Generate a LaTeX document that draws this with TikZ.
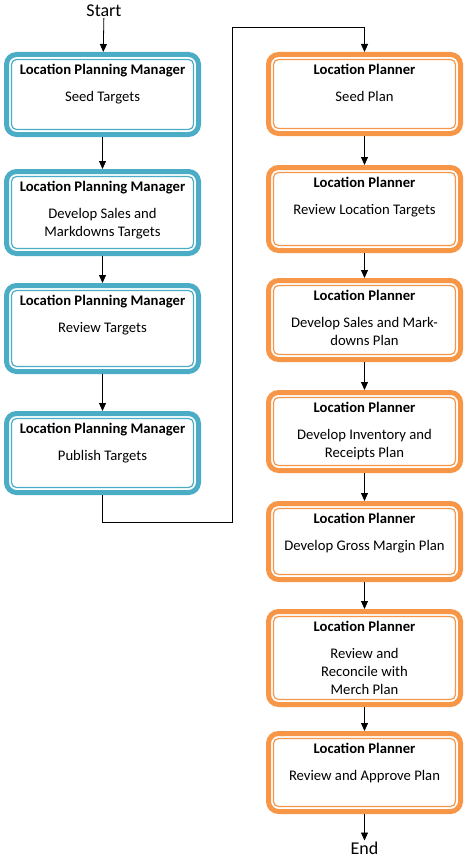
\documentclass[tikz,border=0pt]{standalone}
\usepackage{fontspec}
\setmainfont{Carlito}
\usepackage{tikz}
\usetikzlibrary{arrows.meta, positioning}
\definecolor{lpmblue}{HTML}{4BACC6}
\definecolor{lporange}{HTML}{F79646}
\tikzstyle{lpmbox} = [draw=lpmblue, line width=5pt, rounded corners=10pt, minimum width=192pt]
\tikzstyle{lpbox} = [draw=lporange, line width=5pt, rounded corners=10pt, minimum width=192pt]
\tikzstyle{inner} = [line width=1.2pt, rounded corners=5pt]
\tikzstyle{line} = [draw, line width=0.8pt, -{Triangle[length=8pt, width=7pt]}]
\tikzstyle{plain} = [draw, line width=0.8pt]
\tikzstyle{term} = [font=\fontsize{18}{20}\selectfont, inner sep=1pt]
\tikzset{every label/.style={anchor=north, align=center, yshift=-9pt,
    font=\fontsize{14.67}{18}\selectfont}}

\begin{document}
\begin{tikzpicture}[x=1pt, y=1pt]
			\useasboundingbox (0,0) rectangle (472,-864);
			\node [term] (start) at (104,-11) {Start};

			\node [lpmbox, minimum height=80pt, label={north:{\textbf{Location Planning Manager}\\[9pt]Seed Targets}}] (lpm1) at (102.5,-94.5) {};
			\node [lpmbox, minimum height=82pt, label={north:{\textbf{Location Planning Manager}\\[9pt]Develop Sales and\\Markdowns Targets}}] (lpm2) at (102.5,-212.5) {};
			\node [lpmbox, minimum height=86pt, label={north:{\textbf{Location Planning Manager}\\[9pt]Review Targets}}] (lpm3) at (102.5,-328.5) {};
			\node [lpmbox, minimum height=79pt, label={north:{\textbf{Location Planning Manager}\\[9pt]Publish Targets}}] (lpm4) at (102.5,-453) {};

			\node [lpbox, minimum height=79pt, label={north:{\textbf{Location Planner}\\[9pt]Seed Plan}}] (lp1) at (364.5,-94) {};
			\node [lpbox, minimum height=83pt, label={north:{\textbf{Location Planner}\\[9pt]Review Location Targets}}] (lp2) at (364.5,-209) {};
			\node [lpbox, minimum height=79pt, label={north:{\textbf{Location Planner}\\[9pt]Develop Sales and Mark-\\downs Plan}}] (lp3) at (364.5,-320) {};
			\node [lpbox, minimum height=78pt, label={north:{\textbf{Location Planner}\\[9pt]Develop Inventory and\\Receipts Plan}}] (lp4) at (364.5,-431.5) {};
			\node [lpbox, minimum height=76pt, label={north:{\textbf{Location Planner}\\[9pt]Develop Gross Margin Plan}}] (lp5) at (364.5,-541.5) {};
			\node [lpbox, minimum height=93pt, label={north:{\textbf{Location Planner}\\[9pt]Review and\\Reconcile with\\Merch Plan}}] (lp6) at (364.5,-658) {};
			\node [lpbox, minimum height=78pt, label={north:{\textbf{Location Planner}\\[9pt]Review and Approve Plan}}] (lp7) at (364.5,-772.5) {};

			\node [term] (end) at (364.5,-848) {End};

			\foreach \n in {lpm1, lpm2, lpm3, lpm4}
				\draw [inner, draw=lpmblue] ([shift={(7.5pt,7.5pt)}]\n.south west) rectangle ([shift={(-7.5pt,-7.5pt)}]\n.north east);
			\foreach \n in {lp1, lp2, lp3, lp4, lp5, lp6, lp7}
				\draw [inner, draw=lporange] ([shift={(7.5pt,7.5pt)}]\n.south west) rectangle ([shift={(-7.5pt,-7.5pt)}]\n.north east);

			\coordinate (low) at (232,-522);
			\coordinate (high) at (232,-27);

			\path [line] (start) -- (lpm1);
			\path [line] (lpm1) -- (lpm2);
			\path [line] (lpm2) -- (lpm3);
			\path [line] (lpm3) -- (lpm4);
			\path [plain] (lpm4.south) |- (low) -- (high);
			\path [line] (high) -| (lp1.north);
			\path [line] (lp1) -- (lp2);
			\path [line] (lp2) -- (lp3);
			\path [line] (lp3) -- (lp4);
			\path [line] (lp4) -- (lp5);
			\path [line] (lp5) -- (lp6);
			\path [line] (lp6) -- (lp7);
			\path [line] (lp7) -- (end);
		\end{tikzpicture}
\end{document}
